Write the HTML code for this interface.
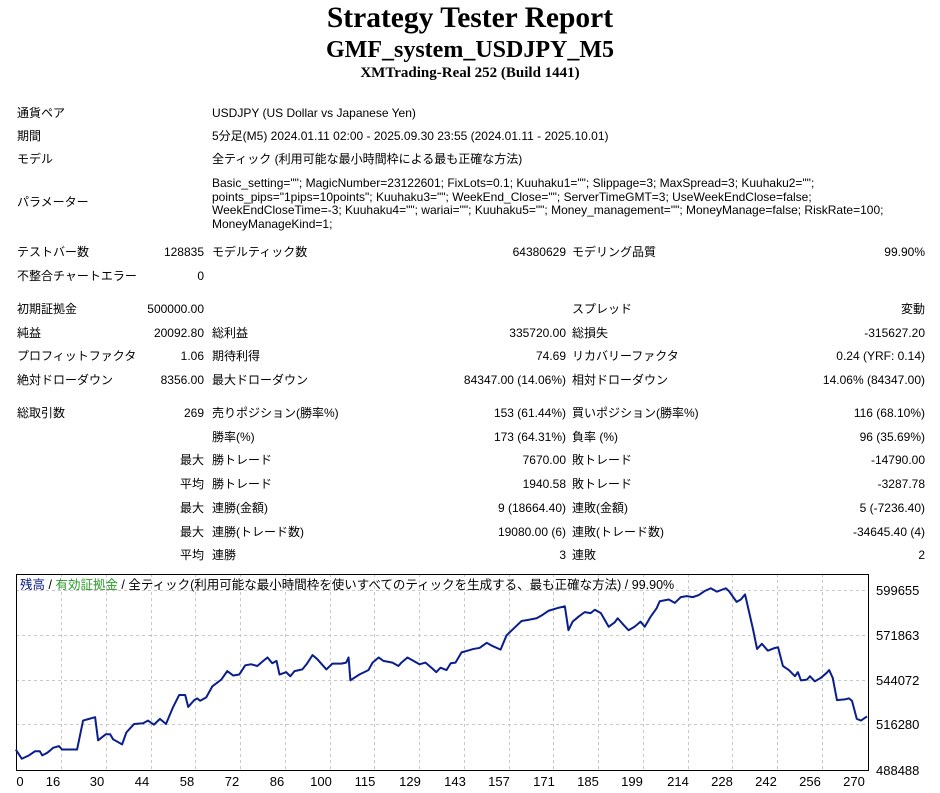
<!DOCTYPE html>
<html><head><meta charset="utf-8"><style>
body{margin:0;width:940px;height:793px;background:#fff;position:relative;overflow:hidden;font-family:"Liberation Sans","Noto Sans CJK JP",sans-serif;font-size:12px;color:#000}
.t{position:absolute;white-space:nowrap;line-height:14px}
.r{text-align:right}
.h{position:absolute;left:0;width:940px;text-align:center;font-family:"Liberation Serif","Noto Serif CJK SC",serif;font-weight:bold}
</style></head><body>
<div class="h" style="top:1px;font-size:29.5px;line-height:35px">Strategy Tester Report</div>
<div class="h" style="top:36px;font-size:24px;line-height:28px">GMF_system_USDJPY_M5</div>
<div class="h" style="top:65px;font-size:15px;line-height:17px">XMTrading-Real 252 (Build 1441)</div>

<div class="t" style="left:17px;top:106px">通貨ペア</div><div class="t" style="left:212px;top:106px">USDJPY (US Dollar vs Japanese Yen)</div>
<div class="t" style="left:17px;top:129px">期間</div><div class="t" style="left:212px;top:129px">5分足(M5) 2024.01.11 02:00 - 2025.09.30 23:55 (2024.01.11 - 2025.10.01)</div>
<div class="t" style="left:17px;top:152px">モデル</div><div class="t" style="left:212px;top:152px">全ティック (利用可能な最小時間枠による最も正確な方法)</div>
<div class="t" style="left:17px;top:195px">パラメーター</div>
<div class="t" style="left:212px;top:177px;line-height:13.5px">Basic_setting=""; MagicNumber=23122601; FixLots=0.1; Kuuhaku1=""; Slippage=3; MaxSpread=3; Kuuhaku2="";<br>points_pips="1pips=10points"; Kuuhaku3=""; WeekEnd_Close=""; ServerTimeGMT=3; UseWeekEndClose=false;<br>WeekEndCloseTime=-3; Kuuhaku4=""; wariai=""; Kuuhaku5=""; Money_management=""; MoneyManage=false; RiskRate=100;<br>MoneyManageKind=1;</div>

<div class="t" style="left:17px;top:245px">テストバー数</div><div class="t r" style="right:736px;top:245px">128835</div><div class="t" style="left:212px;top:245px">モデルティック数</div><div class="t r" style="right:374px;top:245px">64380629</div><div class="t" style="left:572px;top:245px">モデリング品質</div><div class="t r" style="right:15px;top:245px">99.90%</div>
<div class="t" style="left:17px;top:269px">不整合チャートエラー</div><div class="t r" style="right:736px;top:269px">0</div>

<div class="t" style="left:17px;top:302px">初期証拠金</div><div class="t r" style="right:736px;top:302px">500000.00</div><div class="t" style="left:572px;top:302px">スプレッド</div><div class="t r" style="right:15px;top:302px">変動</div>
<div class="t" style="left:17px;top:326px">純益</div><div class="t r" style="right:736px;top:326px">20092.80</div><div class="t" style="left:212px;top:326px">総利益</div><div class="t r" style="right:374px;top:326px">335720.00</div><div class="t" style="left:572px;top:326px">総損失</div><div class="t r" style="right:15px;top:326px">-315627.20</div>
<div class="t" style="left:17px;top:349px">プロフィットファクタ</div><div class="t r" style="right:736px;top:349px">1.06</div><div class="t" style="left:212px;top:349px">期待利得</div><div class="t r" style="right:374px;top:349px">74.69</div><div class="t" style="left:572px;top:349px">リカバリーファクタ</div><div class="t r" style="right:15px;top:349px">0.24 (YRF: 0.14)</div>
<div class="t" style="left:17px;top:373px">絶対ドローダウン</div><div class="t r" style="right:736px;top:373px">8356.00</div><div class="t" style="left:212px;top:373px">最大ドローダウン</div><div class="t r" style="right:374px;top:373px">84347.00 (14.06%)</div><div class="t" style="left:572px;top:373px">相対ドローダウン</div><div class="t r" style="right:15px;top:373px">14.06% (84347.00)</div>

<div class="t" style="left:17px;top:406px">総取引数</div><div class="t r" style="right:736px;top:406px">269</div><div class="t" style="left:212px;top:406px">売りポジション(勝率%)</div><div class="t r" style="right:374px;top:406px">153 (61.44%)</div><div class="t" style="left:572px;top:406px">買いポジション(勝率%)</div><div class="t r" style="right:15px;top:406px">116 (68.10%)</div>
<div class="t" style="left:212px;top:430px">勝率(%)</div><div class="t r" style="right:374px;top:430px">173 (64.31%)</div><div class="t" style="left:572px;top:430px">負率 (%)</div><div class="t r" style="right:15px;top:430px">96 (35.69%)</div>
<div class="t r" style="right:736px;top:453px">最大</div><div class="t" style="left:212px;top:453px">勝トレード</div><div class="t r" style="right:374px;top:453px">7670.00</div><div class="t" style="left:572px;top:453px">敗トレード</div><div class="t r" style="right:15px;top:453px">-14790.00</div>
<div class="t r" style="right:736px;top:477px">平均</div><div class="t" style="left:212px;top:477px">勝トレード</div><div class="t r" style="right:374px;top:477px">1940.58</div><div class="t" style="left:572px;top:477px">敗トレード</div><div class="t r" style="right:15px;top:477px">-3287.78</div>
<div class="t r" style="right:736px;top:501px">最大</div><div class="t" style="left:212px;top:501px">連勝(金額)</div><div class="t r" style="right:374px;top:501px">9 (18664.40)</div><div class="t" style="left:572px;top:501px">連敗(金額)</div><div class="t r" style="right:15px;top:501px">5 (-7236.40)</div>
<div class="t r" style="right:736px;top:525px">最大</div><div class="t" style="left:212px;top:525px">連勝(トレード数)</div><div class="t r" style="right:374px;top:525px">19080.00 (6)</div><div class="t" style="left:572px;top:525px">連敗(トレード数)</div><div class="t r" style="right:15px;top:525px">-34645.40 (4)</div>
<div class="t r" style="right:736px;top:548px">平均</div><div class="t" style="left:212px;top:548px">連勝</div><div class="t r" style="right:374px;top:548px">3</div><div class="t" style="left:572px;top:548px">連敗</div><div class="t r" style="right:15px;top:548px">2</div>

<svg style="position:absolute;left:0;top:0" width="940" height="793">
<g stroke="#c8c8c8" stroke-dasharray="3,3" stroke-width="1">
<line x1="16" x2="868" y1="590.5" y2="590.5"/><line x1="16" x2="868" y1="635.5" y2="635.5"/><line x1="16" x2="868" y1="680.5" y2="680.5"/><line x1="16" x2="868" y1="724.5" y2="724.5"/>
<line x1="61.5" x2="61.5" y1="574" y2="770"/><line x1="106.5" x2="106.5" y1="574" y2="770"/><line x1="151.5" x2="151.5" y1="574" y2="770"/><line x1="195.5" x2="195.5" y1="574" y2="770"/><line x1="240.5" x2="240.5" y1="574" y2="770"/><line x1="285.5" x2="285.5" y1="574" y2="770"/><line x1="330.5" x2="330.5" y1="574" y2="770"/><line x1="374.5" x2="374.5" y1="574" y2="770"/><line x1="419.5" x2="419.5" y1="574" y2="770"/><line x1="464.5" x2="464.5" y1="574" y2="770"/><line x1="509.5" x2="509.5" y1="574" y2="770"/><line x1="553.5" x2="553.5" y1="574" y2="770"/><line x1="598.5" x2="598.5" y1="574" y2="770"/><line x1="643.5" x2="643.5" y1="574" y2="770"/><line x1="688.5" x2="688.5" y1="574" y2="770"/><line x1="732.5" x2="732.5" y1="574" y2="770"/><line x1="777.5" x2="777.5" y1="574" y2="770"/><line x1="822.5" x2="822.5" y1="574" y2="770"/>
</g>
<rect x="16.5" y="574.5" width="852" height="196" fill="none" stroke="#000" stroke-width="1"/>
<g transform="translate(-1.02,563.7) scale(0.6007,0.341)">
<polyline fill="none" stroke="#0a1e8c" stroke-width="2" vector-effect="non-scaling-stroke" stroke-linejoin="round" points="28,545 38,572 50,562 60,550 68,550 72,562 80,555 85,548 90,540 100,535 105,545 130,545 140,460 150,455 160,450 165,518 178,500 185,500 190,515 205,530 212,495 225,470 240,468 248,460 258,472 268,455 278,470 290,420 300,385 310,385 315,420 325,400 330,395 335,402 345,392 355,360 370,340 380,315 390,328 400,325 410,298 420,295 430,300 440,285 447,275 455,292 462,285 467,325 478,318 485,330 492,315 505,310 512,295 522,268 530,280 545,310 555,293 570,293 578,290 582,275 585,342 600,325 615,312 622,290 632,275 640,285 655,290 665,300 670,290 680,275 690,285 700,295 710,290 720,305 728,318 735,305 745,312 752,292 760,290 770,260 780,255 790,250 800,247 812,232 820,240 835,252 845,210 858,188 870,168 880,165 895,160 905,150 915,138 930,130 942,125 948,195 955,170 965,155 975,142 985,145 992,135 1002,145 1015,185 1025,172 1030,160 1040,180 1048,195 1058,185 1068,170 1075,185 1085,155 1095,130 1100,110 1115,105 1125,115 1135,98 1145,95 1155,98 1165,92 1175,80 1185,72 1195,82 1210,72 1215,80 1228,112 1235,105 1242,90 1255,190 1262,250 1270,235 1280,255 1290,248 1297,245 1305,300 1315,312 1325,330 1330,318 1335,342 1345,340 1350,330 1358,345 1368,335 1378,320 1382,312 1388,335 1395,400 1408,398 1415,395 1420,402 1428,455 1435,460 1445,448"/>
</g>
<g font-family="Liberation Sans, sans-serif" font-size="13" fill="#000">
<text x="876" y="595">599655</text><text x="876" y="640">571863</text><text x="876" y="685">544072</text><text x="876" y="729">516280</text><text x="876" y="775">488488</text>
</g>
<g font-family="Liberation Sans, sans-serif" font-size="13" fill="#000" text-anchor="middle">
<text x="20" y="786">0</text><text x="53" y="786">16</text><text x="97" y="786">30</text><text x="142" y="786">44</text><text x="187" y="786">58</text><text x="232" y="786">72</text><text x="277" y="786">86</text><text x="321" y="786">100</text><text x="365" y="786">115</text><text x="410" y="786">129</text><text x="455" y="786">143</text><text x="499" y="786">157</text><text x="544" y="786">171</text><text x="588" y="786">185</text><text x="632" y="786">199</text><text x="678" y="786">214</text><text x="722" y="786">228</text><text x="766" y="786">242</text><text x="810" y="786">256</text><text x="854" y="786">270</text>
</g>
<text x="20" y="589" font-family="Liberation Sans, Noto Sans CJK JP, sans-serif" font-size="12.5"><tspan fill="#0a1e8c">残高</tspan><tspan fill="#000"> / </tspan><tspan fill="#2a9a2a">有効証拠金</tspan><tspan fill="#000"> / 全ティック(利用可能な最小時間枠を使いすべてのティックを生成する、最も正確な方法) / 99.90%</tspan></text>
</svg>
</body></html>
